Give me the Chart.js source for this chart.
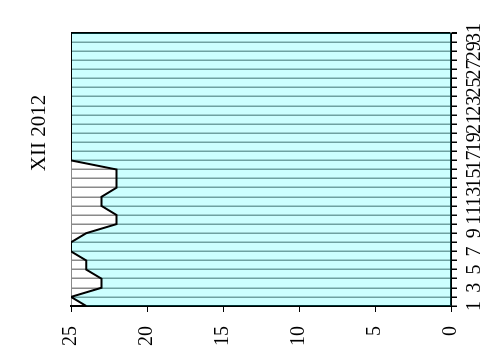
<!DOCTYPE html>
<html>
<head>
<meta charset="utf-8">
<script src="https://cdn.jsdelivr.net/npm/chart.js@4"></script>
<style>
  html, body { margin: 0; padding: 0; background: #fff; overflow: hidden; }
  body { width: 487px; height: 347px; position: relative; }
  /* el gráfico se dibuja "de pie" y se gira -90° */
  #wrap { position: absolute; left: 70px; top: -70px; width: 347px; height: 487px;
          transform: rotate(-90deg); transform-origin: 50% 50%; }
</style>
</head>
<body>
<div id="wrap"><canvas id="chart" width="347" height="487"></canvas></div>
<script>
// ===== Datos =====
const TITLE = 'XII 2012';
const days = Array.from({ length: 31 }, (_, i) => String(i + 1));
const values = [24, 25, 23, 23, 24, 24, 25, 25, 24, 22, 22, 23, 23, 22, 22, 22,
                25, 25, 25, 25, 25, 25, 25, 25, 25, 25, 25, 25, 25, 25, 25];
const yTicks = [0, 5, 10, 15, 20, 25];

const FONT = { family: '"Liberation Serif", "Times New Roman", serif', size: 20 };

// título dibujado a mano (va descentrado en el original)
const titlePlugin = {
  id: 'sideTitle',
  afterDraw(chart) {
    const { ctx, chartArea } = chart;
    ctx.save();
    ctx.font = `21px ${FONT.family}`;
    ctx.fillStyle = '#000';
    ctx.textAlign = 'center';
    ctx.textBaseline = 'middle';
    ctx.fillText(TITLE, chartArea.left + 173, chartArea.top - 32);
    ctx.restore();
  }
};

new Chart(document.getElementById('chart'), {
  type: 'line',
  data: {
    labels: days,
    datasets: [{
      data: values,
      fill: 'origin',
      backgroundColor: 'rgba(0,255,255,0.2)',
      borderColor: '#000',
      borderWidth: 2,
      pointRadius: 0,
      tension: 0
    }]
  },
  options: {
    responsive: false,
    animation: false,
    layout: { padding: { top: 71, right: 33, left: 0, bottom: 0 } },
    plugins: { legend: { display: false }, tooltip: { enabled: false } },
    scales: {
      x: {
        offset: false,
        afterFit: s => { s.height = 36; },
        grid: {
          color: c => c.index === days.length - 1 ? '#000' : '#8a8a8a',
          lineWidth: c => c.index === days.length - 1 ? 2 : 1.5,
          tickColor: '#000', tickLength: 6
        },
        border: { color: '#000', width: 2 },
        ticks: {
          autoSkip: false, maxRotation: 0, minRotation: 0, padding: 6,
          color: '#000', font: FONT,
          callback: (v, i) => i % 2 === 0 ? days[i] : ''
        }
      },
      y: {
        min: 0, max: 25,
        afterFit: s => { s.width = 41; },
        afterBuildTicks: s => { s.ticks = yTicks.map(v => ({ value: v })); },
        grid: {
          color: c => c.tick && c.tick.value === 25 ? '#8a8a8a' : 'rgba(0,0,0,0)',
          tickColor: '#000', tickLength: 6
        },
        border: { color: '#000', width: 2 },
        ticks: { color: '#000', font: FONT, padding: 14 }
      }
    }
  },
  plugins: [titlePlugin]
});
</script>
</body>
</html>
